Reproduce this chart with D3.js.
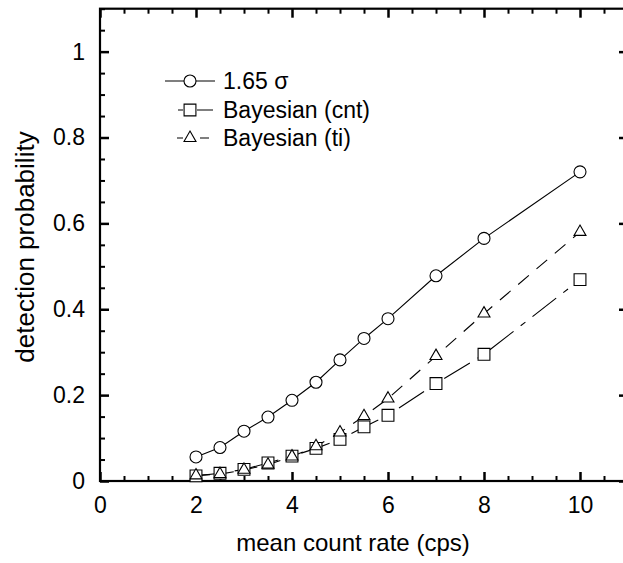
<!DOCTYPE html>
<html>
<head>
<meta charset="utf-8">
<script src="https://cdn.jsdelivr.net/npm/d3@7"></script>
<style>
  body { margin: 0; background: #fff; }
  svg { display: block; font-family: "Liberation Sans", Arial, sans-serif; }
  .axis path { display: none; }
  .axis text { font-size: 23px; fill: #000; }
</style>
</head>
<body>
<svg id="chart" width="623" height="563"></svg>
<script>
// mean count rate (cps)
const rates = [2, 2.5, 3, 3.5, 4, 4.5, 5, 5.5, 6, 7, 8, 10];
// detection probability per method
const sigmaProb = [0.056, 0.078, 0.116, 0.149, 0.188, 0.230, 0.282, 0.332, 0.378, 0.478, 0.565, 0.720];
const cntProb = [0.012, 0.018, 0.027, 0.042, 0.058, 0.076, 0.097, 0.126, 0.153, 0.227, 0.295, 0.469];
const tiProb = [0.013, 0.016, 0.026, 0.038, 0.057, 0.081, 0.113, 0.151, 0.192, 0.291, 0.390, 0.580];

const seriesNames = ['1.65 \u03c3', 'Bayesian (cnt)', 'Bayesian (ti)'];
const xTicks = [0, 2, 4, 6, 8, 10];
const yTicks = [0, 0.2, 0.4, 0.6, 0.8, 1];

const svg = d3.select('#chart');

const plotLeft = 100, plotRight = 628, plotTop = 8.7, plotBottom = 481;

const x = d3.scaleLinear().domain([0, 11]).range([plotLeft, plotRight]);
const y = d3.scaleLinear().domain([0, 1.1]).range([plotBottom, plotTop]);

const xMinor = d3.range(0, 11.01, 0.5).filter(v => !xTicks.includes(v));
const yMinor = d3.range(0, 1.101, 0.05).map(v => +v.toFixed(2)).filter(v => !yTicks.includes(v));

function tickGroup(axis, transform, width) {
    const g = svg.append('g').attr('class', 'axis').attr('transform', transform).call(axis);
    g.selectAll('line').attr('stroke', '#000').attr('stroke-width', width);
    return g;
}

// bottom
tickGroup(d3.axisBottom(x).tickValues(xTicks).tickSizeInner(-9).tickPadding(16).tickFormat(d3.format('d')),
    `translate(0,${plotBottom})`, 2.5);
tickGroup(d3.axisBottom(x).tickValues(xMinor).tickSizeInner(-5).tickFormat(''), `translate(0,${plotBottom})`, 2);
// top
tickGroup(d3.axisTop(x).tickValues(xTicks).tickSizeInner(-9).tickFormat(''), `translate(0,${plotTop})`, 2.5);
tickGroup(d3.axisTop(x).tickValues(xMinor).tickSizeInner(-5).tickFormat(''), `translate(0,${plotTop})`, 2);
// left
tickGroup(d3.axisLeft(y).tickValues(yTicks).tickSizeInner(-9).tickPadding(15).tickFormat(d => d === 0 || d === 1 ? d : d3.format('.1f')(d)),
    `translate(${plotLeft},0)`, 2.5);
tickGroup(d3.axisLeft(y).tickValues(yMinor).tickSizeInner(-5).tickFormat(''), `translate(${plotLeft},0)`, 2);
// right
tickGroup(d3.axisRight(y).tickValues(yTicks).tickSizeInner(-9).tickFormat(''), `translate(${plotRight},0)`, 2.5);
tickGroup(d3.axisRight(y).tickValues(yMinor).tickSizeInner(-5).tickFormat(''), `translate(${plotRight},0)`, 2);

// frame
svg.append('rect')
    .attr('x', plotLeft).attr('y', plotTop)
    .attr('width', plotRight - plotLeft).attr('height', plotBottom - plotTop)
    .attr('fill', 'none').attr('stroke', '#000').attr('stroke-width', 2.2);

// axis titles
svg.append('text')
    .attr('x', 353).attr('y', 551)
    .attr('text-anchor', 'middle')
    .style('font-size', '24px')
    .text('mean count rate (cps)');

svg.append('text')
    .attr('transform', 'translate(34,247) rotate(-90)')
    .attr('text-anchor', 'middle')
    .style('font-size', '26px')
    .text('detection probability');

const series = [
    { name: seriesNames[0], values: sigmaProb, dash: null, symbol: d3.symbolCircle, size: 113 },
    { name: seriesNames[1], values: cntProb, dash: '30,9,6,9', symbol: d3.symbolSquare, size: 140 },
    { name: seriesNames[2], values: tiProb, dash: '14,10', symbol: d3.symbolTriangle, size: 62 }
];

const line = d3.line().x(d => x(d[0])).y(d => y(d[1]));

series.forEach(s => {
    const pts = rates.map((r, i) => [r, s.values[i]]);
    svg.append('path')
        .attr('d', line(pts))
        .attr('fill', 'none')
        .attr('stroke', '#000')
        .attr('stroke-width', 1.1)
        .attr('stroke-dasharray', s.dash);
});

series.forEach(s => {
    const sym = d3.symbol().type(s.symbol).size(s.size);
    svg.append('g').selectAll('path')
        .data(rates.map((r, i) => [r, s.values[i]]))
        .join('path')
        .attr('transform', d => `translate(${x(d[0])},${y(d[1])})`)
        .attr('d', sym)
        .attr('fill', '#fff')
        .attr('stroke', '#000')
        .attr('stroke-width', 1.1);
});

// legend
const legend = svg.append('g');
const legendRows = [
    { y: 81, x1: 165, x2: 215, dash: null },
    { y: 110, x1: 178, x2: 213, dash: '5,14,16' },
    { y: 138, x1: 177, x2: 209, dash: '6,17,9' }
];
series.forEach((s, i) => {
    const row = legendRows[i];
    legend.append('line')
        .attr('x1', row.x1).attr('x2', row.x2)
        .attr('y1', row.y).attr('y2', row.y)
        .attr('stroke', '#000').attr('stroke-width', 1.1)
        .attr('stroke-dasharray', row.dash);
    legend.append('path')
        .attr('transform', `translate(190,${row.y})`)
        .attr('d', d3.symbol().type(s.symbol).size(s.size)())
        .attr('fill', '#fff').attr('stroke', '#000').attr('stroke-width', 1.1);
    legend.append('text')
        .attr('x', 223).attr('y', row.y + 8)
        .style('font-size', '23px')
        .text(s.name);
});
</script>
</body>
</html>
